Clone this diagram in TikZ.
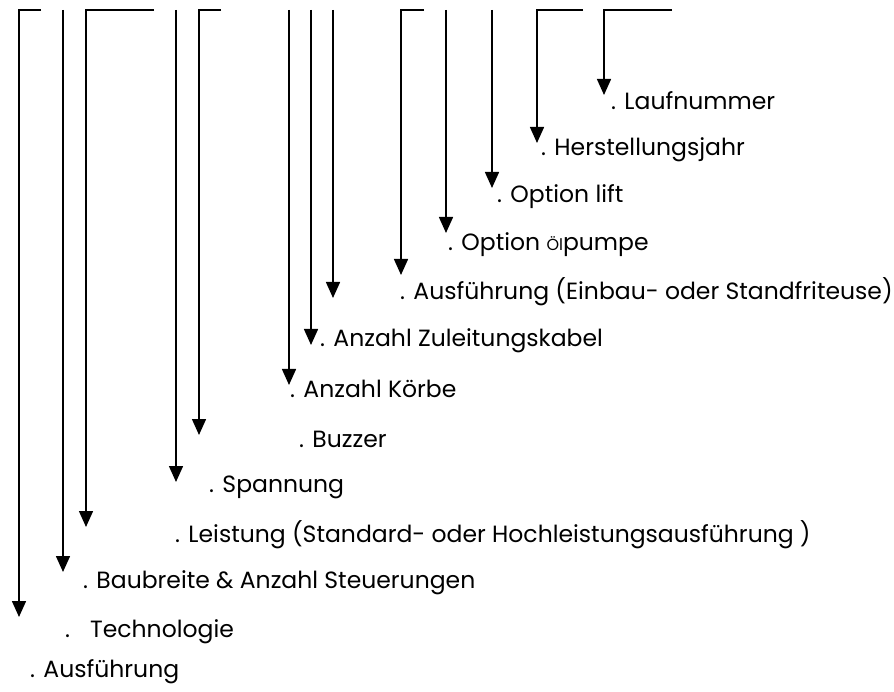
\documentclass[tikz,border=0pt]{standalone}
\usepackage{fontspec}
\setmainfont{Poppins}
\usepackage{tikz}
\usetikzlibrary{arrows.meta}

\begin{document}
\begin{tikzpicture}[
    x=1pt, y=-1pt,
    field/.style={anchor=west, inner sep=0pt, font=\fontsize{23.5}{27}\selectfont},
    arrow/.style={-{Triangle[length=16pt, width=14pt]}, line width=1.5pt},
]
    \useasboundingbox (0,0) rectangle (894,692);

    % Tops of the lines
    \coordinate (top1) at (41,10);
    \coordinate (top2) at (63,10);
    \coordinate (top3) at (154,10);
    \coordinate (top4) at (176,10);
    \coordinate (top5) at (221,10);
    \coordinate (top6) at (289,10);
    \coordinate (top7) at (311,10);
    \coordinate (top8) at (333,10);
    \coordinate (top9) at (424,10);
    \coordinate (top10) at (446,10);
    \coordinate (top11) at (492,10);
    \coordinate (top12) at (583,10);
    \coordinate (top13) at (672,10);

    % Arrow tips
    \coordinate (tip1) at (19,617);
    \coordinate (tip2) at (63,572);
    \coordinate (tip3) at (86,527);
    \coordinate (tip4) at (176,482);
    \coordinate (tip5) at (199,435);
    \coordinate (tip6) at (289,385);
    \coordinate (tip7) at (311,345);
    \coordinate (tip8) at (333,298);
    \coordinate (tip9) at (401,275);
    \coordinate (tip10) at (446,233);
    \coordinate (tip11) at (492,188);
    \coordinate (tip12) at (537,143);
    \coordinate (tip13) at (604,95);

    % Labels
    \node[field] (lauf) at (611,101) {. Laufnummer};
    \node[field] (jahr) at (541,150) {. Herstellungsjahr};
    \node[field] (lift) at (497,197) {. Option lift};
    \node[field] (oel) at (448,245) {. Option {\fontsize{16}{19}\selectfont Öl}pumpe};
    \node[field] (einbau) at (400,292) {. Ausführung (Einbau- oder Standfriteuse)};
    \node[field] (kabel) at (320,341) {. Anzahl Zuleitungskabel};
    \node[field] (koerbe) at (290,389) {. Anzahl Körbe};
    \node[field] (buzzer) at (299,439) {. Buzzer};
    \node[field] (spannung) at (209,487) {. Spannung};
    \node[field] (leistung) at (175,535) {. Leistung (Standard- oder Hochleistungsausführung )};
    \node[field] (breite) at (83,583) {. Baubreite \& Anzahl Steuerungen};
    \node[field] (techno) at (65,632) {.\hspace{20pt}Technologie};
    \node[field] (ausf) at (30,672) {. Ausführung};

    % Arrows
    \draw[arrow] (top1) -| (tip1);
    \draw[arrow] (top2) -- (tip2);
    \draw[arrow] (top3) -| (tip3);
    \draw[arrow] (top4) -- (tip4);
    \draw[arrow] (top5) -| (tip5);
    \draw[arrow] (top6) -- (tip6);
    \draw[arrow] (top7) -- (tip7);
    \draw[arrow] (top8) -- (tip8);
    \draw[arrow] (top9) -| (tip9);
    \draw[arrow] (top10) -- (tip10);
    \draw[arrow] (top11) -- (tip11);
    \draw[arrow] (top12) -| (tip12);
    \draw[arrow] (top13) -| (tip13);
\end{tikzpicture}
\end{document}
